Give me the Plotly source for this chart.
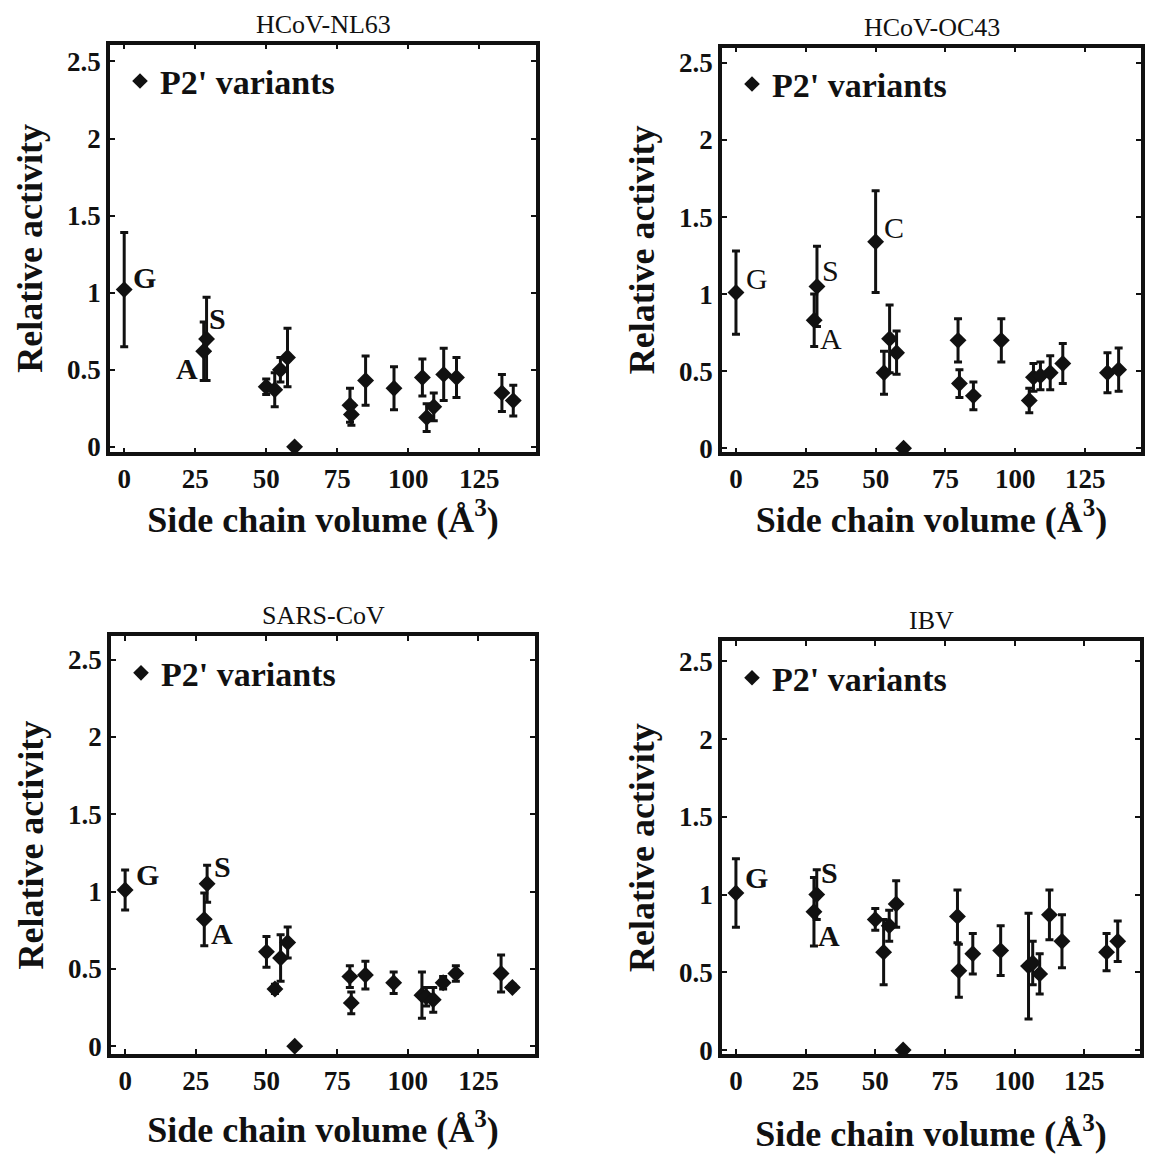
import plotly.graph_objects as go

# Side chain volumes (Å^3) of the P2' residues tested
volume = [0, 28, 29, 50, 53, 55, 57.5, 60, 79.5, 80, 85, 95, 105, 106.5, 109, 112.5, 117, 133, 137]

# Relative activity and error (one list pair per virus)
nl63_act = [1.02, 0.62, 0.70, 0.39, 0.37, 0.50, 0.58, 0.0, 0.27, 0.21, 0.43, 0.38, 0.45, 0.19, 0.26, 0.47, 0.45, 0.35, 0.30]
nl63_err = [0.37, 0.19, 0.27, 0.05, 0.11, 0.08, 0.19, 0.0, 0.11, 0.07, 0.16, 0.14, 0.12, 0.09, 0.09, 0.17, 0.13, 0.12, 0.10]

oc43_act = [1.01, 0.83, 1.05, 1.34, 0.49, 0.71, 0.62, 0.0, 0.70, 0.42, 0.34, 0.70, 0.31, 0.46, 0.47, 0.49, 0.55, 0.49, 0.51]
oc43_err = [0.27, 0.17, 0.26, 0.33, 0.14, 0.22, 0.14, 0.0, 0.14, 0.09, 0.09, 0.14, 0.08, 0.09, 0.09, 0.11, 0.13, 0.13, 0.14]

sars_act = [1.01, 0.82, 1.05, 0.61, 0.37, 0.57, 0.67, 0.0, 0.45, 0.28, 0.46, 0.41, 0.33, 0.32, 0.30, 0.41, 0.47, 0.47, 0.38]
sars_err = [0.13, 0.17, 0.12, 0.10, 0.03, 0.15, 0.10, 0.0, 0.07, 0.07, 0.09, 0.07, 0.15, 0.06, 0.08, 0.04, 0.05, 0.12, 0.02]

ibv_act = [1.01, 0.89, 1.00, 0.84, 0.63, 0.80, 0.94, 0.0, 0.86, 0.51, 0.62, 0.64, 0.54, 0.56, 0.49, 0.87, 0.70, 0.63, 0.70]
ibv_err = [0.22, 0.22, 0.16, 0.07, 0.21, 0.10, 0.15, 0.0, 0.17, 0.17, 0.13, 0.16, 0.34, 0.14, 0.13, 0.16, 0.17, 0.12, 0.13]

panel_titles = ["HCoV-NL63", "HCoV-OC43", "SARS-CoV", "IBV"]
legend_label = "P2' variants"
x_title = "Side chain volume (Å<sup>3</sup>)"
y_title = "Relative activity"
x_ticks = [0, 25, 50, 75, 100, 125]
y_ticks = [0, 0.5, 1, 1.5, 2, 2.5]

# Residue labels: (text, x, y) per panel
residue_labels = [
    [("G", 7.0, 1.10), ("S", 33.0, 0.83), ("A", 22.0, 0.51)],
    [("G", 7.5, 1.10), ("S", 34.0, 1.15), ("C", 56.5, 1.43), ("A", 34.0, 0.71)],
    [("G", 8.0, 1.11), ("S", 34.6, 1.16), ("A", 34.4, 0.73)],
    [("G", 7.2, 1.11), ("S", 33.5, 1.14), ("A", 33.4, 0.74)],
]

W, H = 1156, 1155
SERIF = "Liberation Serif, Times New Roman, serif"

# Plot boxes in pixels: left, right, top, bottom
boxes = [(110, 536, 45, 457), (722, 1141, 48, 457), (111, 535, 643, 1065), (722, 1140, 648, 1065)]
y_ranges = [[-0.035, 2.61], [-0.026, 2.6], [-0.05, 2.65], [-0.025, 2.63]]
x_range = [-5, 145]
x_title_gap = [14, 14, 23, 27]

series = [(nl63_act, nl63_err), (oc43_act, oc43_err), (sars_act, sars_err), (ibv_act, ibv_err)]
label_bold = [True, False, True, True]

fig = go.Figure()
layout = {}
annotations = []

for i, ((act, err), (l, r, t, b)) in enumerate(zip(series, boxes)):
    n = i + 1
    xa = "xaxis" if n == 1 else f"xaxis{n}"
    ya = "yaxis" if n == 1 else f"yaxis{n}"
    xref = "x" if n == 1 else f"x{n}"
    yref = "y" if n == 1 else f"y{n}"
    leg = "legend" if n == 1 else f"legend{n}"

    fig.add_trace(go.Scatter(
        x=volume, y=act, mode="markers", name=legend_label,
        xaxis=xref, yaxis=yref, legend=leg, showlegend=True,
        marker=dict(symbol="diamond", size=13, color="#111"),
        error_y=dict(type="data", array=err, visible=True, color="#111", thickness=3, width=4),
    ))

    axis_common = dict(
        showline=True, linecolor="#111", linewidth=3.5, mirror="allticks",
        ticks="inside", ticklen=5, tickwidth=2, tickcolor="#111",
        showgrid=False, zeroline=False,
        tickfont=dict(family=SERIF, size=27, color="#111", weight="bold"),
    )
    layout[xa] = dict(
        axis_common, domain=[l / W, r / W], range=x_range, tickvals=x_ticks,
        anchor=yref,
        title=dict(text=x_title, standoff=x_title_gap[i],
                   font=dict(family=SERIF, size=36, color="#111", weight="bold")),
    )
    layout[ya] = dict(
        axis_common, domain=[1 - b / H, 1 - t / H], range=y_ranges[i], tickvals=y_ticks,
        anchor=xref,
        title=dict(text=y_title, standoff=14,
                   font=dict(family=SERIF, size=36, color="#111", weight="bold")),
    )
    layout[leg] = dict(
        x=(l + 10) / W, y=1 - (t + 8) / H, xanchor="left", yanchor="top",
        bgcolor="rgba(0,0,0,0)", borderwidth=0,
        font=dict(family=SERIF, size=34, color="#111", weight="bold"),
        itemsizing="constant",
    )

    # Panel title above the box
    annotations.append(dict(
        text=panel_titles[i], xref="paper", yref="paper",
        x=(l + r) / 2 / W, y=1 - (t - 4) / H, xanchor="center", yanchor="bottom",
        showarrow=False, font=dict(family=SERIF, size=26, color="#111"),
    ))

    for txt, lx, ly in residue_labels[i]:
        annotations.append(dict(
            text=txt, x=lx, y=ly, xref=xref, yref=yref, showarrow=False,
            xanchor="center", yanchor="middle",
            font=dict(family=SERIF, size=30, color="#111",
                      weight="bold" if label_bold[i] else "normal"),
        ))

fig.update_layout(
    width=W, height=H, margin=dict(l=0, r=0, t=0, b=0),
    paper_bgcolor="white", plot_bgcolor="white",
    annotations=annotations, **layout,
)

fig.write_html("out.html")
